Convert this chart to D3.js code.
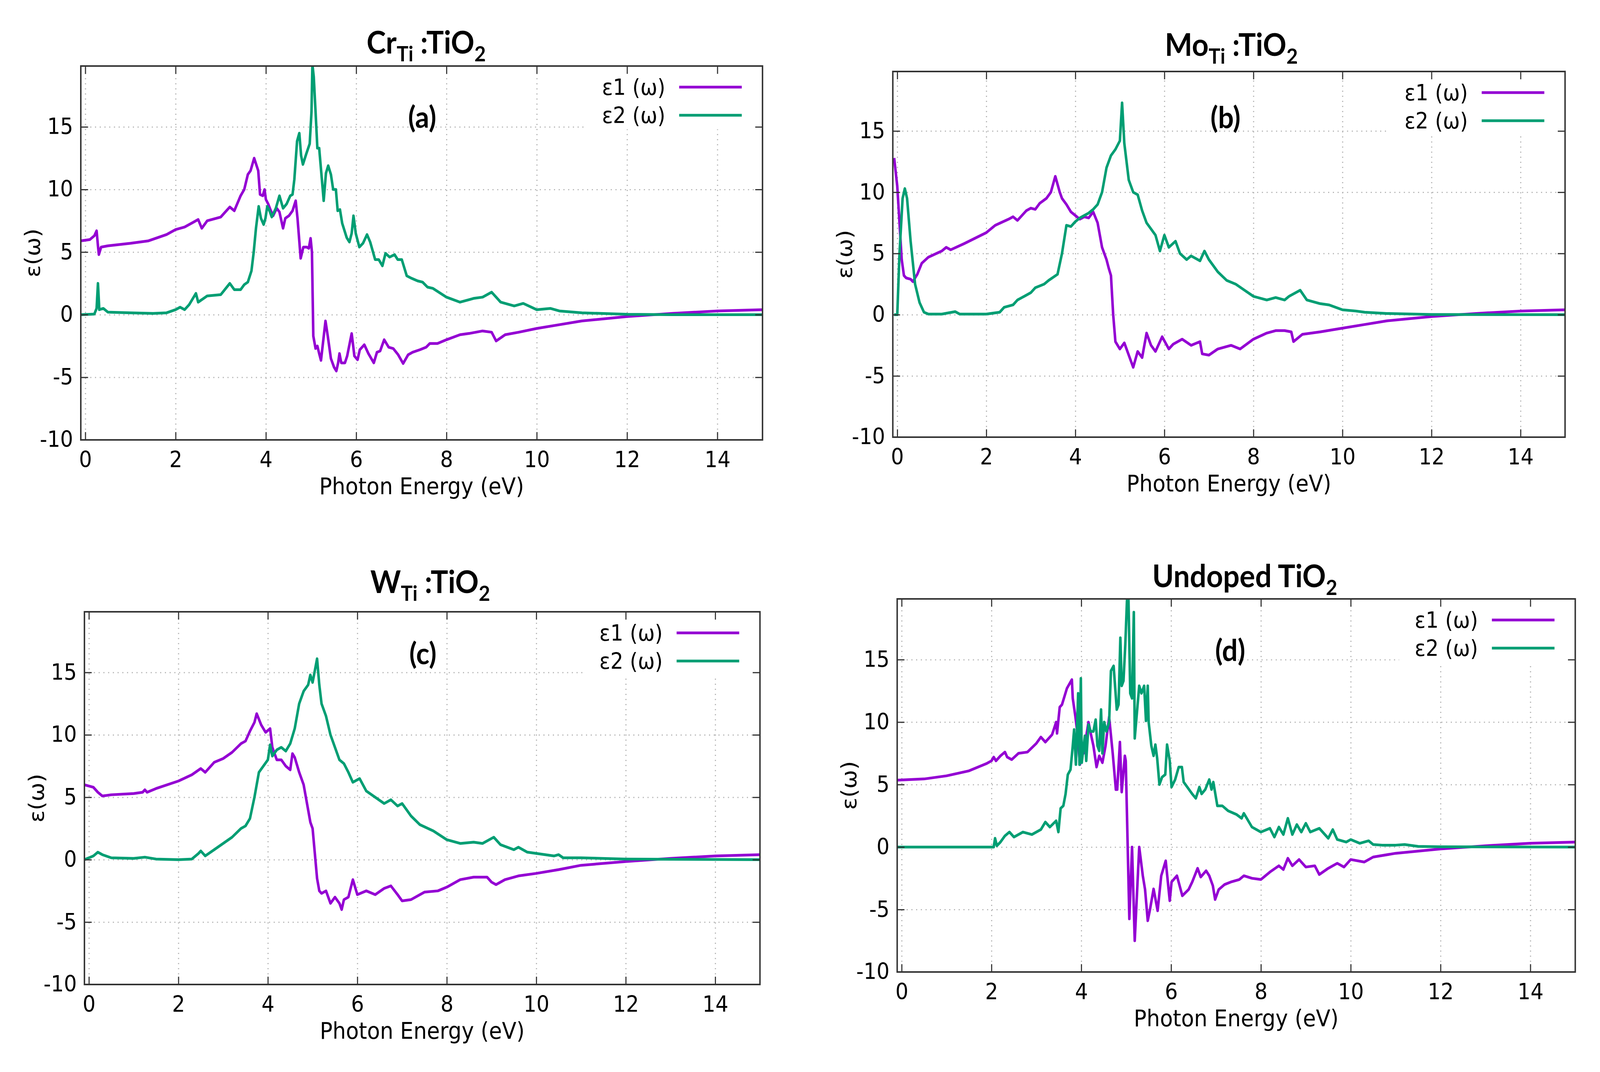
<!DOCTYPE html>
<html>
<head>
<meta charset="utf-8">
<script src="https://cdn.jsdelivr.net/npm/d3@7"></script>
<style>
  html, body { margin: 0; padding: 0; background: #fff; overflow: hidden; }
  #chart { display: block; width: 100vw; height: 100vh; }
  text { fill: #000; }
</style>
</head>
<body>
<svg id="chart"></svg>
<script>
const width = 4396;
const height = 2744;

// axes
const xTicks = [0, 2, 4, 6, 8, 10, 12, 14];
const yTicks = [-10, -5, 0, 5, 10, 15];
const xRange = [-0.1, 15];
const yRange = [-10, 19.86];

const seriesNames = ["ε1 (ω)", "ε2 (ω)"];
const panelLetters = ["(a)", "(b)", "(c)", "(d)"];

// titles: [text, isSubscript]
const crTitle = [["Cr", 0], ["Ti", 1], [" :TiO", 0], ["2", 1]];
const moTitle = [["Mo", 0], ["Ti", 1], [" :TiO", 0], ["2", 1]];
const wTitle = [["W", 0], ["Ti", 1], [" :TiO", 0], ["2", 1]];
const undopedTitle = [["Undoped TiO", 0], ["2", 1]];

// (a) Cr doped, [energy eV, eps]
const crE1 = [[-0.1,5.9],[0.1,6.0],[0.2,6.3],[0.25,6.7],[0.28,5.5],[0.3,4.8],[0.35,5.4],[0.5,5.5],[1.0,5.7],[1.4,5.9],[1.8,6.4],[2.0,6.8],[2.2,7.0],[2.4,7.4],[2.5,7.6],[2.58,6.9],[2.7,7.5],[3.0,7.8],[3.2,8.6],[3.3,8.3],[3.44,9.5],[3.52,10.0],[3.6,11.2],[3.66,11.5],[3.74,12.5],[3.83,11.5],[3.87,9.6],[3.93,9.5],[3.97,10.0],[4.0,9.2],[4.05,8.85],[4.11,8.3],[4.16,7.9],[4.24,8.5],[4.3,8.2],[4.38,6.9],[4.43,7.7],[4.51,7.9],[4.59,8.3],[4.66,9.1],[4.7,7.7],[4.77,4.5],[4.83,5.4],[4.9,5.4],[4.95,5.3],[4.99,6.1],[5.02,5.0],[5.05,-1.7],[5.1,-2.7],[5.14,-2.5],[5.18,-3.1],[5.22,-3.65],[5.32,-0.5],[5.37,-1.7],[5.44,-3.5],[5.51,-4.2],[5.56,-4.5],[5.6,-3.85],[5.63,-3.1],[5.67,-3.85],[5.75,-3.85],[5.8,-3.3],[5.9,-1.5],[5.96,-3.3],[6.03,-3.6],[6.08,-2.8],[6.18,-2.4],[6.27,-3.1],[6.39,-3.85],[6.46,-3.0],[6.53,-2.9],[6.62,-2.0],[6.72,-2.6],[6.82,-2.7],[6.93,-3.2],[7.04,-3.9],[7.15,-3.2],[7.25,-3.0],[7.41,-2.8],[7.55,-2.6],[7.63,-2.3],[7.8,-2.3],[8.0,-2.0],[8.3,-1.6],[8.5,-1.5],[8.8,-1.3],[9.0,-1.4],[9.1,-2.1],[9.3,-1.6],[9.6,-1.4],[10.0,-1.1],[10.5,-0.8],[11,-0.5],[12,-0.15],[13,0.1],[14,0.3],[15,0.4]];
const crE2 = [[-0.1,0],[0.2,0.05],[0.25,0.5],[0.28,2.5],[0.31,0.4],[0.4,0.5],[0.5,0.2],[1.0,0.15],[1.5,0.1],[1.8,0.15],[2.0,0.4],[2.1,0.6],[2.2,0.4],[2.3,0.8],[2.45,1.7],[2.5,1.0],[2.7,1.5],[3.0,1.6],[3.2,2.5],[3.3,2.0],[3.44,2.0],[3.52,2.4],[3.6,2.6],[3.68,3.5],[3.73,5.0],[3.78,6.9],[3.84,8.65],[3.89,7.7],[3.95,7.2],[3.99,7.7],[4.03,8.65],[4.08,8.3],[4.13,7.8],[4.22,8.5],[4.3,9.5],[4.38,8.5],[4.46,8.85],[4.54,9.5],[4.59,9.6],[4.63,10.8],[4.69,13.85],[4.74,14.5],[4.78,12.7],[4.82,12.0],[4.89,12.8],[4.97,13.65],[5.01,16.2],[5.03,20],[5.06,19],[5.1,16.2],[5.14,13.3],[5.18,13.3],[5.24,10.8],[5.28,9.1],[5.33,11.3],[5.38,11.9],[5.44,11.2],[5.49,10.0],[5.55,10.0],[5.59,8.3],[5.64,8.4],[5.69,7.3],[5.79,6.15],[5.85,5.8],[5.9,6.5],[5.94,7.9],[5.99,6.5],[6.07,5.4],[6.15,5.7],[6.24,6.4],[6.31,5.8],[6.42,4.4],[6.5,4.4],[6.58,3.9],[6.65,4.9],[6.74,4.6],[6.85,4.8],[6.92,4.4],[7.01,4.4],[7.12,3.1],[7.23,2.9],[7.36,2.7],[7.47,2.6],[7.58,2.2],[7.7,2.1],[8.0,1.4],[8.3,1.0],[8.5,1.2],[8.6,1.3],[8.8,1.4],[9.0,1.8],[9.2,1.0],[9.5,0.7],[9.7,0.9],[10.0,0.4],[10.3,0.5],[10.5,0.3],[11,0.15],[12,0.03],[13,0],[15,0]];

// (b) Mo doped
const moE1 = [[-0.07,12.8],[0.0,10.5],[0.05,7.5],[0.1,4.5],[0.15,3.2],[0.2,3.0],[0.3,2.9],[0.35,2.7],[0.45,3.3],[0.55,4.2],[0.7,4.7],[1.0,5.2],[1.1,5.5],[1.2,5.3],[1.5,5.8],[2.0,6.7],[2.2,7.3],[2.5,7.8],[2.6,8.0],[2.7,7.7],[2.9,8.5],[3.0,8.7],[3.1,8.6],[3.2,9.1],[3.35,9.5],[3.45,10.0],[3.55,11.3],[3.65,10.0],[3.7,9.5],[3.8,9.0],[3.9,8.4],[4.0,8.1],[4.1,7.8],[4.2,8.0],[4.3,7.9],[4.4,8.4],[4.5,7.5],[4.6,5.5],[4.7,4.5],[4.75,3.8],[4.8,3.2],[4.85,0],[4.9,-2.2],[5.0,-2.8],[5.1,-2.3],[5.2,-3.3],[5.3,-4.3],[5.4,-3.0],[5.5,-3.5],[5.6,-1.5],[5.7,-2.5],[5.8,-3.0],[5.95,-1.8],[6.1,-2.8],[6.2,-2.4],[6.4,-2.0],[6.6,-2.5],[6.8,-2.2],[6.85,-3.2],[7.0,-3.3],[7.2,-2.8],[7.5,-2.5],[7.7,-2.8],[8.0,-2.0],[8.3,-1.5],[8.5,-1.3],[8.7,-1.3],[8.85,-1.4],[8.9,-2.2],[9.1,-1.6],[9.5,-1.4],[10,-1.1],[10.5,-0.8],[11,-0.5],[12,-0.15],[13,0.1],[14,0.3],[15,0.4]];
const moE2 = [[-0.07,0],[0.0,0],[0.05,5],[0.12,9.5],[0.17,10.3],[0.22,9.5],[0.3,6.0],[0.4,2.5],[0.5,1.0],[0.6,0.2],[0.7,0.05],[1.0,0.05],[1.3,0.25],[1.4,0.05],[2.0,0.05],[2.3,0.2],[2.4,0.6],[2.6,0.8],[2.7,1.2],[2.85,1.5],[3.0,1.8],[3.1,2.2],[3.3,2.5],[3.4,2.8],[3.6,3.3],[3.7,5.0],[3.8,7.3],[3.9,7.2],[4.0,7.6],[4.1,7.9],[4.3,8.3],[4.4,8.6],[4.5,9.0],[4.6,10.0],[4.7,12.0],[4.8,13.0],[4.9,13.5],[5.0,14.2],[5.05,17.3],[5.1,14.0],[5.2,11.0],[5.3,10.0],[5.4,9.8],[5.5,8.5],[5.6,7.5],[5.8,6.5],[5.9,5.2],[6.0,6.5],[6.1,5.5],[6.25,6.0],[6.35,5.0],[6.5,4.5],[6.6,4.8],[6.8,4.4],[6.9,5.2],[7.0,4.5],[7.2,3.5],[7.4,2.8],[7.6,2.5],[7.8,2.0],[8.0,1.5],[8.3,1.2],[8.5,1.4],[8.7,1.2],[8.8,1.5],[9.05,2.0],[9.2,1.2],[9.5,0.9],[9.7,0.8],[10.0,0.4],[10.3,0.3],[10.5,0.2],[11,0.1],[12,0.02],[15,0]];

// (c) W doped
const wE1 = [[-0.1,6.0],[0.1,5.8],[0.2,5.4],[0.3,5.1],[0.5,5.2],[1.0,5.3],[1.2,5.4],[1.25,5.6],[1.3,5.4],[1.5,5.7],[2.0,6.3],[2.3,6.8],[2.5,7.3],[2.6,7.0],[2.8,7.8],[3.0,8.1],[3.2,8.6],[3.4,9.3],[3.5,9.5],[3.6,10.3],[3.7,11.0],[3.75,11.7],[3.85,10.8],[3.95,10.2],[4.05,10.5],[4.1,9.0],[4.2,8.0],[4.3,8.0],[4.4,7.5],[4.5,7.2],[4.55,8.5],[4.6,8.2],[4.7,7.0],[4.8,6.0],[4.85,5.0],[4.95,3.0],[5.0,2.5],[5.05,0.5],[5.1,-1.5],[5.15,-2.5],[5.2,-2.7],[5.3,-2.5],[5.4,-3.5],[5.5,-3.0],[5.6,-3.5],[5.65,-4.0],[5.7,-3.2],[5.8,-3.0],[5.9,-1.6],[6.0,-2.8],[6.2,-2.5],[6.4,-2.8],[6.6,-2.3],[6.75,-2.1],[6.9,-2.8],[7.0,-3.3],[7.2,-3.2],[7.5,-2.6],[7.8,-2.5],[8.0,-2.2],[8.3,-1.6],[8.6,-1.4],[8.9,-1.4],[9.0,-1.8],[9.1,-2.0],[9.3,-1.6],[9.6,-1.3],[10,-1.1],[10.5,-0.8],[11,-0.45],[12,-0.15],[13,0.1],[14,0.3],[15,0.4]];
const wE2 = [[-0.1,0],[0.1,0.3],[0.2,0.6],[0.3,0.4],[0.5,0.15],[1.0,0.1],[1.25,0.2],[1.5,0.05],[2.0,0],[2.3,0.05],[2.45,0.5],[2.5,0.7],[2.6,0.3],[2.8,0.8],[3.0,1.3],[3.2,1.8],[3.4,2.5],[3.5,2.7],[3.6,3.3],[3.7,5.0],[3.8,7.0],[3.9,7.5],[4.0,8.0],[4.05,9.2],[4.1,8.3],[4.2,8.8],[4.3,9.0],[4.4,8.7],[4.5,9.3],[4.6,10.5],[4.7,12.5],[4.8,13.5],[4.9,14.0],[4.95,14.8],[5.0,14.2],[5.1,16.1],[5.15,14.0],[5.2,12.5],[5.3,11.5],[5.4,10.0],[5.5,9.0],[5.6,8.0],[5.7,7.7],[5.8,7.0],[5.9,6.2],[6.05,6.5],[6.2,5.5],[6.4,5.0],[6.6,4.5],[6.75,4.8],[6.9,4.3],[7.0,4.5],[7.2,3.5],[7.4,2.8],[7.7,2.3],[8.0,1.6],[8.3,1.3],[8.6,1.4],[8.8,1.3],[9.05,1.8],[9.2,1.2],[9.5,0.8],[9.6,1.0],[9.8,0.6],[10.0,0.5],[10.4,0.3],[10.5,0.4],[10.6,0.15],[11,0.15],[12,0.05],[15,0]];

// (d) undoped
const undopedE1 = [[-0.1,5.35],[0.5,5.45],[1.0,5.7],[1.5,6.1],[1.9,6.7],[2.0,6.9],[2.05,7.2],[2.1,6.9],[2.2,7.3],[2.3,7.6],[2.35,7.2],[2.45,7.0],[2.6,7.5],[2.8,7.6],[3.0,8.3],[3.1,8.8],[3.2,8.4],[3.35,9.0],[3.44,10.0],[3.46,9.1],[3.52,11.2],[3.57,11.4],[3.68,12.7],[3.79,13.4],[3.81,11.9],[3.87,10.4],[3.91,9.2],[3.97,6.6],[4.0,8.5],[4.05,7.5],[4.16,10.0],[4.21,9.1],[4.27,8.1],[4.34,6.4],[4.4,7.3],[4.47,6.75],[4.54,8.1],[4.62,10.4],[4.7,7.5],[4.77,4.6],[4.8,4.6],[4.86,8.4],[4.9,4.4],[4.97,7.3],[4.99,6.9],[5.07,-5.75],[5.13,0],[5.19,-7.5],[5.29,0],[5.37,-2.3],[5.42,-3.4],[5.48,-5.9],[5.53,-5.0],[5.61,-3.35],[5.7,-5.1],[5.78,-2.3],[5.88,-1.1],[5.97,-4.3],[6.01,-2.8],[6.13,-2.3],[6.25,-3.9],[6.39,-3.4],[6.47,-2.8],[6.59,-1.7],[6.66,-2.4],[6.78,-1.9],[6.85,-2.3],[6.93,-3.1],[6.98,-4.2],[7.06,-3.4],[7.19,-3.0],[7.33,-2.8],[7.52,-2.6],[7.62,-2.3],[7.8,-2.5],[8.0,-2.6],[8.2,-2.0],[8.4,-1.5],[8.5,-1.8],[8.6,-0.9],[8.7,-1.5],[8.85,-1.0],[9.0,-1.6],[9.2,-1.5],[9.3,-2.2],[9.5,-1.7],[9.7,-1.3],[9.85,-1.6],[10.0,-1.0],[10.3,-1.2],[10.5,-0.8],[11,-0.5],[12,-0.15],[13,0.1],[14,0.3],[15,0.4]];
const undopedE2 = [[-0.1,0],[2.05,0],[2.08,0.7],[2.12,0.1],[2.2,0.4],[2.3,0.9],[2.4,1.2],[2.5,0.8],[2.7,1.2],[2.9,1.0],[3.1,1.4],[3.2,2.0],[3.3,1.6],[3.44,2.1],[3.49,1.2],[3.54,3.1],[3.6,3.3],[3.65,4.25],[3.7,5.8],[3.76,6.2],[3.81,8.1],[3.84,9.4],[3.88,6.6],[3.93,12.3],[3.96,6.6],[3.99,13.5],[4.01,6.75],[4.08,8.9],[4.11,6.9],[4.16,9.8],[4.21,9.25],[4.27,9.25],[4.32,10.2],[4.36,8.1],[4.4,7.7],[4.44,11.0],[4.47,7.5],[4.51,10.0],[4.56,9.25],[4.62,10.0],[4.66,14.1],[4.72,14.5],[4.79,11.0],[4.83,11.4],[4.87,16.75],[4.9,12.9],[4.94,13.3],[4.98,16.2],[5.02,20],[5.05,20],[5.09,12.3],[5.13,11.9],[5.17,18.8],[5.19,8.7],[5.29,12.9],[5.34,12.3],[5.4,12.9],[5.44,10.1],[5.48,12.9],[5.5,10.0],[5.56,8.1],[5.61,7.3],[5.65,8.2],[5.69,7.1],[5.74,5.0],[5.8,5.6],[5.87,5.8],[5.91,8.2],[5.97,6.9],[6.01,4.8],[6.09,5.4],[6.17,6.4],[6.24,6.4],[6.28,5.2],[6.36,4.8],[6.47,4.25],[6.55,3.9],[6.63,4.8],[6.68,4.25],[6.76,4.6],[6.85,5.4],[6.9,4.6],[6.94,5.2],[7.03,3.3],[7.14,3.3],[7.27,2.9],[7.46,2.6],[7.57,2.3],[7.62,2.7],[7.8,1.6],[8.0,1.2],[8.2,1.5],[8.3,0.8],[8.4,1.6],[8.5,1.0],[8.6,2.3],[8.7,1.0],[8.8,1.8],[8.9,1.2],[9.0,1.9],[9.1,1.2],[9.3,1.5],[9.5,0.7],[9.6,1.4],[9.7,0.6],[9.9,0.4],[10.0,0.6],[10.2,0.3],[10.4,0.5],[10.5,0.2],[10.7,0.15],[11.0,0.15],[11.2,0.2],[11.5,0.05],[12,0.02],[15,0]];

// panel layout (pixels)
const panels = [
  { title: crTitle, e1: crE1, e2: crE2, box: { left: 222, right: 2095, top: 169, bottom: 1126 }, titleX: 1171, titleY: 137, letterX: 1160, letterY: 327 },
  { title: moTitle, e1: moE1, e2: moE2, box: { left: 2453, right: 4300, top: 183, bottom: 1119 }, titleX: 3383, titleY: 143, letterX: 3367, letterY: 328 },
  { title: wTitle, e1: wE1, e2: wE2, box: { left: 232, right: 2088, top: 1566, bottom: 2520 }, titleX: 1182, titleY: 1518, letterX: 1162, letterY: 1700 },
  { title: undopedTitle, e1: undopedE1, e2: undopedE2, box: { left: 2465, right: 4328, top: 1533, bottom: 2488 }, titleX: 3420, titleY: 1503, letterX: 3380, letterY: 1692 }
];

const colors = ["#9400d3", "#009e73"];
const tickFont = "'DejaVu Sans', Verdana, sans-serif";
const boldFont = "Lato, 'Open Sans', sans-serif";

// stretch the 4396x2744 drawing over the whole window
const svg = d3
  .select("#chart")
  .attr("viewBox", `0 0 ${width} ${height}`)
  .attr("preserveAspectRatio", "none");

svg.append("rect").attr("width", width).attr("height", height).attr("fill", "#fff");

const defs = svg.append("defs");

panels.forEach((p, i) => {
  const b = p.box;
  const w = b.right - b.left;
  const h = b.bottom - b.top;

  const x = d3.scaleLinear().domain(xRange).range([b.left, b.right]);
  const y = d3.scaleLinear().domain(yRange).range([b.bottom, b.top]);

  defs
    .append("clipPath")
    .attr("id", `clip${i}`)
    .append("rect")
    .attr("x", b.left)
    .attr("y", b.top)
    .attr("width", w)
    .attr("height", h);

  const g = svg.append("g");

  // dotted grid
  const gridX = g
    .append("g")
    .attr("transform", `translate(0,${b.bottom})`)
    .call(d3.axisBottom(x).tickValues(xTicks).tickSize(-h).tickFormat(""));
  const gridY = g
    .append("g")
    .attr("transform", `translate(${b.left},0)`)
    .call(d3.axisLeft(y).tickValues(yTicks).tickSize(-w).tickFormat(""));
  [gridX, gridY].forEach((gg) => {
    gg.select(".domain").remove();
    gg.selectAll("line")
      .attr("stroke", "#b4b4b4")
      .attr("stroke-width", 3)
      .attr("stroke-dasharray", "3,10");
  });

  // curves
  const line = d3
    .line()
    .x((d) => x(d[0]))
    .y((d) => y(d[1]));

  const curves = g.append("g").attr("clip-path", `url(#clip${i})`);
  [p.e1, p.e2].forEach((series, k) => {
    curves
      .append("path")
      .datum(series)
      .attr("d", line)
      .attr("fill", "none")
      .attr("stroke", colors[k])
      .attr("stroke-width", 7)
      .attr("stroke-linejoin", "round");
  });

  // opaque key
  g.append("rect")
    .attr("x", b.right - 484)
    .attr("y", b.top + 2)
    .attr("width", 482)
    .attr("height", 160)
    .attr("fill", "#fff");

  const key = g
    .selectAll(".key")
    .data(seriesNames)
    .join("g")
    .attr("class", "key")
    .attr("transform", (d, k) => `translate(0,${b.top + 54 + k * 72})`);

  key
    .append("text")
    .attr("x", b.right - 267)
    .attr("dy", "0.35em")
    .attr("text-anchor", "end")
    .attr("font-family", tickFont)
    .attr("font-size", 56)
    .text((d) => d);

  key
    .append("line")
    .attr("x1", b.right - 229)
    .attr("x2", b.right - 57)
    .attr("stroke", (d, k) => colors[k])
    .attr("stroke-width", 7);

  // border
  g.append("rect")
    .attr("x", b.left)
    .attr("y", b.top)
    .attr("width", w)
    .attr("height", h)
    .attr("fill", "none")
    .attr("stroke", "#333")
    .attr("stroke-width", 4);

  // axes with inward ticks, gnuplot style labels
  const plain = (d) => String(d);
  const axes = [
    g.append("g").attr("transform", `translate(0,${b.bottom})`)
      .call(d3.axisBottom(x).tickValues(xTicks).tickSize(-20).tickPadding(30).tickFormat(plain)),
    g.append("g").attr("transform", `translate(0,${b.top})`)
      .call(d3.axisTop(x).tickValues(xTicks).tickSize(-20).tickFormat("")),
    g.append("g").attr("transform", `translate(${b.left},0)`)
      .call(d3.axisLeft(y).tickValues(yTicks).tickSize(-20).tickPadding(21).tickFormat(plain)),
    g.append("g").attr("transform", `translate(${b.right},0)`)
      .call(d3.axisRight(y).tickValues(yTicks).tickSize(-20).tickFormat(""))
  ];
  axes.forEach((a) => {
    a.select(".domain").remove();
    a.selectAll("line").attr("stroke", "#333").attr("stroke-width", 3);
    a.selectAll("text")
      .attr("font-family", tickFont)
      .attr("font-size", 56)
      .attr("fill", "#000");
  });

  // axis titles
  g.append("text")
    .attr("x", (b.left + b.right) / 2)
    .attr("y", b.bottom + 139)
    .attr("text-anchor", "middle")
    .attr("font-family", tickFont)
    .attr("font-size", 58)
    .text("Photon Energy (eV)");

  g.append("text")
    .attr("transform", `translate(${b.left - 112},${(b.top + b.bottom) / 2}) rotate(-90)`)
    .attr("text-anchor", "middle")
    .attr("font-family", tickFont)
    .attr("font-size", 58)
    .text("ε(ω)");

  // panel letter
  g.append("text")
    .attr("x", p.letterX)
    .attr("y", p.letterY)
    .attr("text-anchor", "middle")
    .attr("font-family", boldFont)
    .attr("font-weight", "bold")
    .attr("font-size", 76)
    .text(panelLetters[i]);

  // title with subscripts
  const title = g
    .append("text")
    .attr("x", p.titleX)
    .attr("y", p.titleY)
    .attr("text-anchor", "middle")
    .attr("font-family", boldFont)
    .attr("font-weight", "bold")
    .attr("font-size", 80);

  let shifted = false;
  p.title.forEach(([t, sub]) => {
    const span = title.append("tspan").text(t);
    if (sub && !shifted) {
      span.attr("font-size", 54).attr("dy", 20);
      shifted = true;
    } else if (!sub && shifted) {
      span.attr("dy", -20);
      shifted = false;
    }
  });
});
</script>
</body>
</html>
